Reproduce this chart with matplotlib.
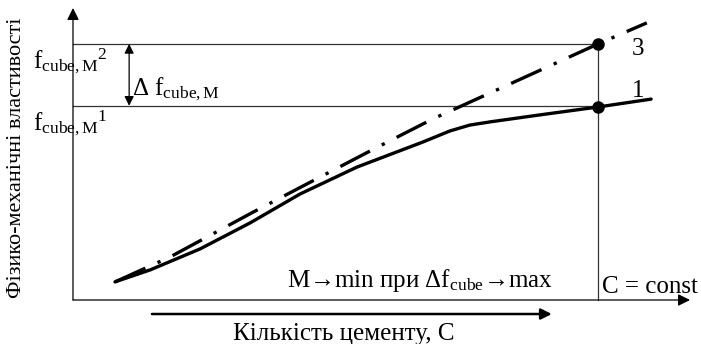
import matplotlib.pyplot as plt

plt.rcParams['font.family'] = ['Liberation Serif', 'DejaVu Serif']
plt.rcParams['mathtext.fontset'] = 'custom'
plt.rcParams['mathtext.rm'] = 'Liberation Serif'
plt.rcParams['mathtext.it'] = 'Liberation Serif:italic'

# curve 1 (solid) and curve 3 (dash-dot)
c1_x = [0.68, 1.25, 2.06, 2.87, 3.68, 4.60, 5.67, 6.11, 6.43, 6.76, 7.57, 8.51, 9.37]
c1_y = [0.62, 1.03, 1.75, 2.64, 3.63, 4.55, 5.41, 5.79, 5.99, 6.10, 6.34, 6.61, 6.88]
c3_x = [0.68, 1.57, 2.92, 4.04, 4.94, 5.83, 6.76, 8.51, 9.30]
c3_y = [0.62, 1.47, 3.01, 4.25, 5.24, 6.20, 7.09, 8.77, 9.49]

c_const = 8.51
f_m1 = 6.65
f_m2 = 8.77

fig = plt.figure(figsize=(7.01, 3.44), dpi=100)
ax = fig.add_axes([73 / 701, 44 / 344, 617 / 701, 292 / 344])
ax.set_xlim(0, 10)
ax.set_ylim(0, 10)
ax.axis('off')

thin = dict(color='#333333', lw=0.9)

# axes with arrows
ax.annotate('', xy=(0, 10), xytext=(0, 0),
            arrowprops=dict(arrowstyle='-|>', color='black', lw=0.9,
                            mutation_scale=18, shrinkA=0, shrinkB=0),
            annotation_clip=False)
ax.annotate('', xy=(10, 0), xytext=(0, 0),
            arrowprops=dict(arrowstyle='-|>', color='black', lw=0.9,
                            mutation_scale=18, shrinkA=0, shrinkB=0),
            annotation_clip=False)

# guide lines
ax.plot([0, c_const], [f_m2, f_m2], clip_on=False, **thin)
ax.plot([0, c_const], [f_m1, f_m1], clip_on=False, **thin)
ax.plot([c_const, c_const], [0, f_m2], clip_on=False, **thin)

# curves
ax.plot(c1_x, c1_y, color='black', lw=2.4, solid_capstyle='round',
        solid_joinstyle='round', clip_on=False)
ax.plot(c3_x, c3_y, color='black', lw=2.4, linestyle=(0, (10, 4, 1, 4)),
        clip_on=False)

ax.plot([c_const, c_const], [f_m1 - 0.04, f_m2], 'o', color='black',
        markersize=8, clip_on=False)

# delta arrow
ax.annotate('', xy=(0.91, f_m2), xytext=(0.91, f_m1),
            arrowprops=dict(arrowstyle='<|-|>', color='black', lw=0.9,
                            mutation_scale=14, shrinkA=0, shrinkB=0))

fs = 18
ax.text(-0.65, 7.95, r'f$_{\mathrm{cube,M}}{}^{2}$', fontsize=fs,
        ha='left', va='baseline')
ax.text(-0.65, 5.82, r'f$_{\mathrm{cube,M}}{}^{1}$', fontsize=fs,
        ha='left', va='baseline')
ax.text(0.96, 7.02, r'$\Delta$ f$_{\mathrm{cube,M}}$', fontsize=fs,
        ha='left', va='baseline')
ax.text(9.06, 8.39, '3', fontsize=fs, ha='left', va='baseline')
ax.text(9.06, 6.95, '1', fontsize=fs, ha='left', va='baseline')
ax.text(5.62, 0.45, r'M→min при $\Delta$f$_{\mathrm{cube}}$→max',
        fontsize=fs, ha='center', va='baseline')
ax.text(8.57, 0.24, 'C = const', fontsize=fs, ha='left', va='baseline')

# axis titles
ax.annotate('', xy=(7.76, -0.48), xytext=(1.28, -0.48),
            arrowprops=dict(arrowstyle='-|>', color='black', lw=1.8,
                            mutation_scale=16, shrinkA=0, shrinkB=0),
            annotation_clip=False)
ax.text(4.39, -1.37, 'Кількість цементу, С', fontsize=fs,
        ha='center', va='baseline')
ax.text(-0.92, 4.87, 'Фізико-механічні властивості', fontsize=16,
        ha='center', va='center', rotation=90)

plt.savefig('out.png', dpi=100)
plt.close()
